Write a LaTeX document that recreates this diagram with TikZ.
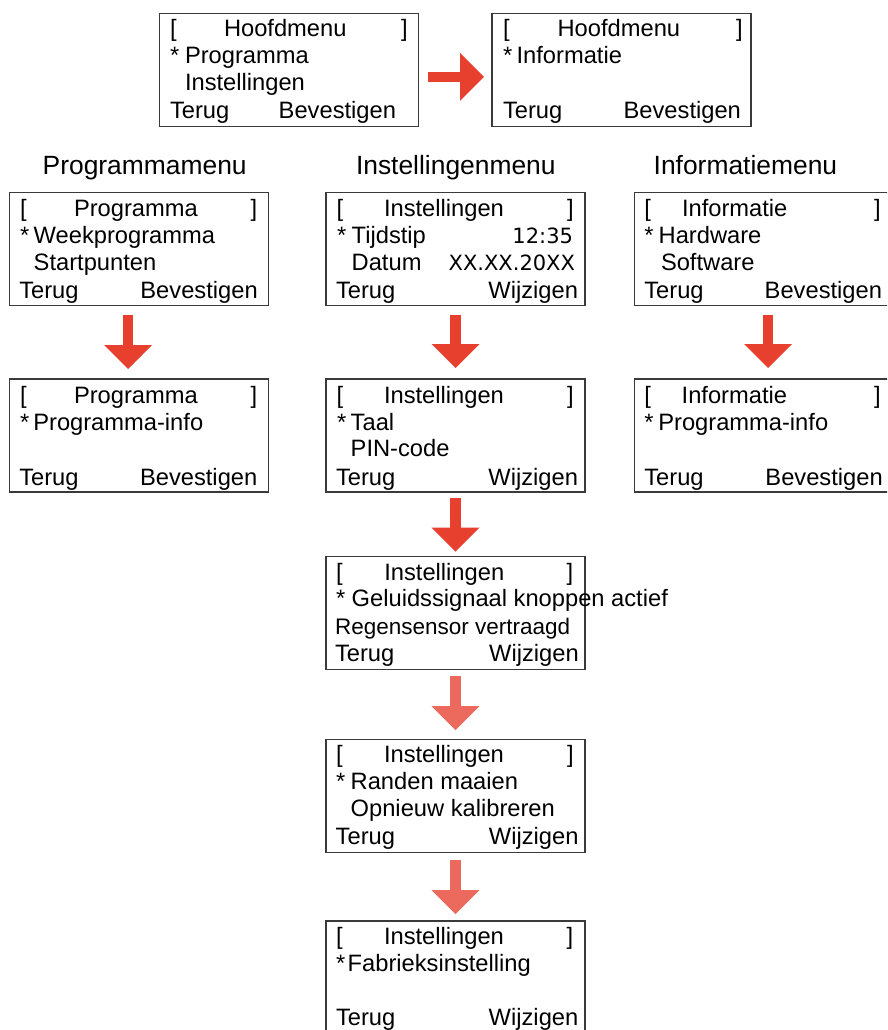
\documentclass[tikz,border=0pt]{standalone}
\usepackage{fontspec}
\setmainfont{Liberation Sans}
\newfontfamily\digitfont{DejaVu Sans}
\usetikzlibrary{calc,arrows.meta}
\definecolor{arrred}{HTML}{E8402F}
\definecolor{arrlight}{HTML}{EC695D}
\definecolor{framecol}{HTML}{3A3A3A}
\newcommand\mtl[4]{\node[lt] (#1) at ($(#2.north west)+(#3)$) {#4};}
\newcommand\mtr[4]{\node[rt] (#1) at ($(#2.north west)+(#3)$) {#4};}
\begin{document}
\begin{tikzpicture}[x=1pt,y=-1pt,
  menu/.style={draw=framecol, line width=1.3pt, minimum width=259pt, minimum height=113pt, inner sep=0pt, outer sep=0pt, anchor=north west},
  txt/.style={inner sep=0pt, outer sep=0pt, font=\fontsize{23.7}{28}\selectfont},
  lt/.style={txt, anchor=base west},
  rt/.style={txt, anchor=base east},
  dig/.style={inner sep=0pt, outer sep=0pt, anchor=base east, font=\digitfont\fontsize{21}{25}\selectfont},
  head/.style={inner sep=0pt, outer sep=0pt, anchor=base west, font=\fontsize{26.4}{30}\selectfont},
  blockarrow/.style={draw=#1, line width=10.5pt, -{Triangle[width=48pt,length=24pt,line width=0pt]}},
]
\path[use as bounding box] (0,0) rectangle (887,1030);
\clip (0,0) rectangle (887,1030);
\fill[white] (0,0) rectangle (887,1030);

% ---------- top row ----------
\node[menu] (b1) at (159.3,13.3) {};
\mtl{b1l}{b1}{10.7,23.4}{[}
\mtl{b1t}{b1}{64.7,23.4}{Hoofdmenu}
\mtl{b1r}{b1}{241.7,23.4}{]}
\mtl{b1s}{b1}{10.7,50.7}{*}
\mtl{b1a}{b1}{25.7,50.7}{Programma}
\mtl{b1b}{b1}{25.7,77.4}{Instellingen}
\mtl{b1back}{b1}{10.7,105}{Terug}
\mtr{b1ok}{b1}{236.7,105}{Bevestigen}

\node[menu] (b2) at (492,13.3) {};
\mtl{b2l}{b2}{11,23.4}{[}
\mtl{b2t}{b2}{65.6,23.4}{Hoofdmenu}
\mtl{b2r}{b2}{244,23.4}{]}
\mtl{b2s}{b2}{11,50.7}{*}
\mtl{b2a}{b2}{24.6,50.7}{Informatie}
\mtl{b2back}{b2}{11,105}{Terug}
\mtr{b2ok}{b2}{248.9,105}{Bevestigen}

\draw[blockarrow=arrred] ($(b1.east)+(10,7)$) -- ($(b2.west)+(-8,7)$);

% ---------- headings ----------
\node[head] (h1) at (42.7,174.3) {Programmamenu};
\node[head] (h2) at (356,174.3) {Instellingenmenu};
\node[head] (h3) at (653.7,174.3) {Informatiemenu};

% ---------- row 1 ----------
\node[menu] (p1) at (9.3,192.7) {};
\mtl{p1l}{p1}{10.7,24}{[}
\mtl{p1t}{p1}{64.7,24}{Programma}
\mtl{p1r}{p1}{241.4,24}{]}
\mtl{p1s}{p1}{10.7,50.6}{*}
\mtl{p1a}{p1}{24.4,50.6}{Weekprogramma}
\mtl{p1b}{p1}{24.4,78}{Startpunten}
\mtl{p1back}{p1}{10,105.6}{Terug}
\mtr{p1ok}{p1}{248.4,105.6}{Bevestigen}

\node[menu] (s1) at (326,192.7) {};
\mtl{s1l}{s1}{10.7,24}{[}
\mtl{s1t}{s1}{58,24}{Instellingen}
\mtl{s1r}{s1}{241,24}{]}
\mtl{s1s}{s1}{11,50.6}{*}
\mtl{s1a}{s1}{25.7,50.6}{Tijdstip}
\node[dig] (s1c) at ($(s1.north west)+(247,50.6)$) {12:35};
\mtl{s1b}{s1}{25.7,78}{Datum}
\node[dig] (s1d) at ($(s1.north west)+(249,78)$) {XX.XX.20XX};
\mtl{s1back}{s1}{10,105.6}{Terug}
\mtr{s1ok}{s1}{252,105.6}{Wijzigen}

\node[menu] (i1) at (634.7,192.7) {};
\mtl{i1l}{i1}{9.6,24}{[}
\mtl{i1t}{i1}{47.3,24}{Informatie}
\mtl{i1r}{i1}{239.3,24}{]}
\mtl{i1s}{i1}{9.6,50.6}{*}
\mtl{i1a}{i1}{24,50.6}{Hardware}
\mtl{i1b}{i1}{26.3,78}{Software}
\mtl{i1back}{i1}{9.6,105.6}{Terug}
\mtr{i1ok}{i1}{247.3,105.6}{Bevestigen}

% ---------- row 2 ----------
\node[menu] (p2) at (9.3,379) {};
\mtl{p2l}{p2}{10.7,24}{[}
\mtl{p2t}{p2}{64.7,24}{Programma}
\mtl{p2r}{p2}{241.4,24}{]}
\mtl{p2s}{p2}{10.7,51}{*}
\mtl{p2a}{p2}{24,51}{Programma-info}
\mtl{p2back}{p2}{10,106}{Terug}
\mtr{p2ok}{p2}{248,106}{Bevestigen}

\node[menu] (s2) at (326,379) {};
\mtl{s2l}{s2}{10.7,24}{[}
\mtl{s2t}{s2}{58,24}{Instellingen}
\mtl{s2r}{s2}{241,24}{]}
\mtl{s2s}{s2}{11,51}{*}
\mtl{s2a}{s2}{24.7,51}{Taal}
\mtl{s2b}{s2}{24.7,77.7}{PIN-code}
\mtl{s2back}{s2}{10,106}{Terug}
\mtr{s2ok}{s2}{252,106}{Wijzigen}

\node[menu] (i2) at (634.7,379) {};
\mtl{i2l}{i2}{9.6,24}{[}
\mtl{i2t}{i2}{47,24}{Informatie}
\mtl{i2r}{i2}{239.3,24}{]}
\mtl{i2s}{i2}{9.6,51}{*}
\mtl{i2a}{i2}{23.6,51}{Programma-info}
\mtl{i2back}{i2}{9.6,106}{Terug}
\mtr{i2ok}{i2}{248,106}{Bevestigen}

\draw[blockarrow=arrred] ($(p1.south)+(-10.6,9)$) -- ($(p2.north)+(-10.6,-10)$);
\draw[blockarrow=arrred] ($(s1.south)+(0,9)$) -- ($(s2.north)+(0,-11)$);
\draw[blockarrow=arrred] ($(i1.south)+(4,9)$) -- ($(i2.north)+(4,-11)$);

% ---------- column of settings ----------
\node[menu] (s3) at (326,556.7) {};
\mtl{s3l}{s3}{10,23.3}{[}
\mtl{s3t}{s3}{58.3,23.3}{Instellingen}
\mtl{s3r}{s3}{240.7,23.3}{]}
\mtl{s3s}{s3}{10,50}{*}
\mtl{s3a}{s3}{25.7,50}{Geluidssignaal knoppen actief}
\node[lt, font=\fontsize{22.5}{27}\selectfont] (s3b) at ($(s3.north west)+(9,77.3)$) {Regensensor vertraagd};
\mtl{s3back}{s3}{9,105}{Terug}
\mtr{s3ok}{s3}{252.7,105}{Wijzigen}

\draw[blockarrow=arrred] ($(s2.south)+(0,6.3)$) -- ($(s3.north)+(0,-5)$);

\node[menu] (s4) at (326,739.3) {};
\mtl{s4l}{s4}{10,23.4}{[}
\mtl{s4t}{s4}{58,23.4}{Instellingen}
\mtl{s4r}{s4}{241,23.4}{]}
\mtl{s4s}{s4}{10,50.5}{*}
\mtl{s4a}{s4}{24.7,50.5}{Randen maaien}
\mtl{s4b}{s4}{24.7,77.5}{Opnieuw kalibreren}
\mtl{s4back}{s4}{9.7,105}{Terug}
\mtr{s4ok}{s4}{252.5,105}{Wijzigen}

\draw[blockarrow=arrlight] ($(s3.south)+(0,6.7)$) -- ($(s4.north)+(0,-9.3)$);

\node[menu] (s5) at (326,921) {};
\mtl{s5l}{s5}{10,23}{[}
\mtl{s5t}{s5}{58,23}{Instellingen}
\mtl{s5r}{s5}{240.5,23}{]}
\mtl{s5s}{s5}{10,50.7}{*}
\mtl{s5a}{s5}{21.7,50.7}{Fabrieksinstelling}
\mtl{s5back}{s5}{10,104}{Terug}
\mtr{s5ok}{s5}{252.3,104}{Wijzigen}

\draw[blockarrow=arrlight] ($(s4.south)+(0,7.3)$) -- ($(s5.north)+(0,-7)$);
\end{tikzpicture}
\end{document}
